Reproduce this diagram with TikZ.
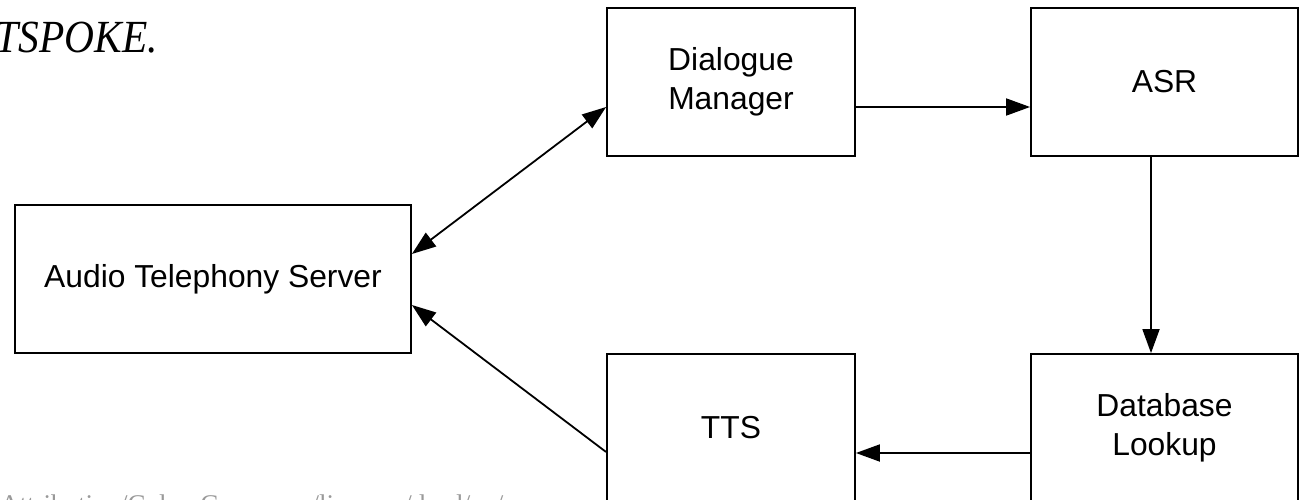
\documentclass[tikz,border=0pt]{standalone}
\usepackage{fontspec}
\setmainfont{Liberation Serif}
\newfontfamily\boxfont{Liberation Sans}
\usetikzlibrary{arrows.meta}
\begin{document}
\begin{tikzpicture}[x=1pt,y=-1pt,
  block/.style={draw, line width=1.8pt, rectangle, inner sep=0pt, align=center,
    font=\boxfont\fontsize{31.8}{39}\selectfont},
  tip/.tip={Triangle[length=24pt,width=17pt]},
  link/.style={line width=1.8pt, -tip},
  twoway/.style={line width=1.8pt, tip-tip},
]
\clip (0,0) rectangle (1304,500);
\useasboundingbox (0,0) rectangle (1304,500);

% heading fragment and footer line
\node[anchor=base east, inner sep=0pt, font=\fontsize{46}{46}\selectfont\itshape] (title) at (158,53) {\scalebox{0.9}[1]{TSPOKE.}};
\node[anchor=base west, inner sep=0pt, text=black!40, font=\fontsize{27}{27}\selectfont] (credit) at (0,513) {Attribution/Colon Commons/licenses/deed/en/};

% components
\node[block, minimum width=396pt, minimum height=148pt] (ats) at (213,279) {Audio Telephony Server};
\node[block, minimum width=248pt, minimum height=148pt] (dm) at (731,82) {Dialogue\\Manager};
\node[block, minimum width=267pt, minimum height=148pt] (asr) at (1164.5,82) {ASR};
\node[block, minimum width=267pt, minimum height=148pt] (db) at (1164.5,428) {Database\\Lookup};
\node[block, minimum width=248pt, minimum height=148pt] (tts) at (731,428) {TTS};

% data flow
\draw[twoway] ([yshift=25pt]ats.east) -- ([yshift=-25pt]dm.west);
\draw[link] ([yshift=-25pt]dm.east) -- ([yshift=-25pt]asr.west);
\draw[link] ([xshift=-13.5pt]asr.south) -- ([xshift=-13.5pt]db.north);
\draw[link] ([yshift=-25pt]db.west) -- ([yshift=-25pt]tts.west -| tts.east);
\draw[link] ([yshift=-24pt]tts.west) -- ([yshift=-26pt]ats.east);
\end{tikzpicture}
\end{document}
